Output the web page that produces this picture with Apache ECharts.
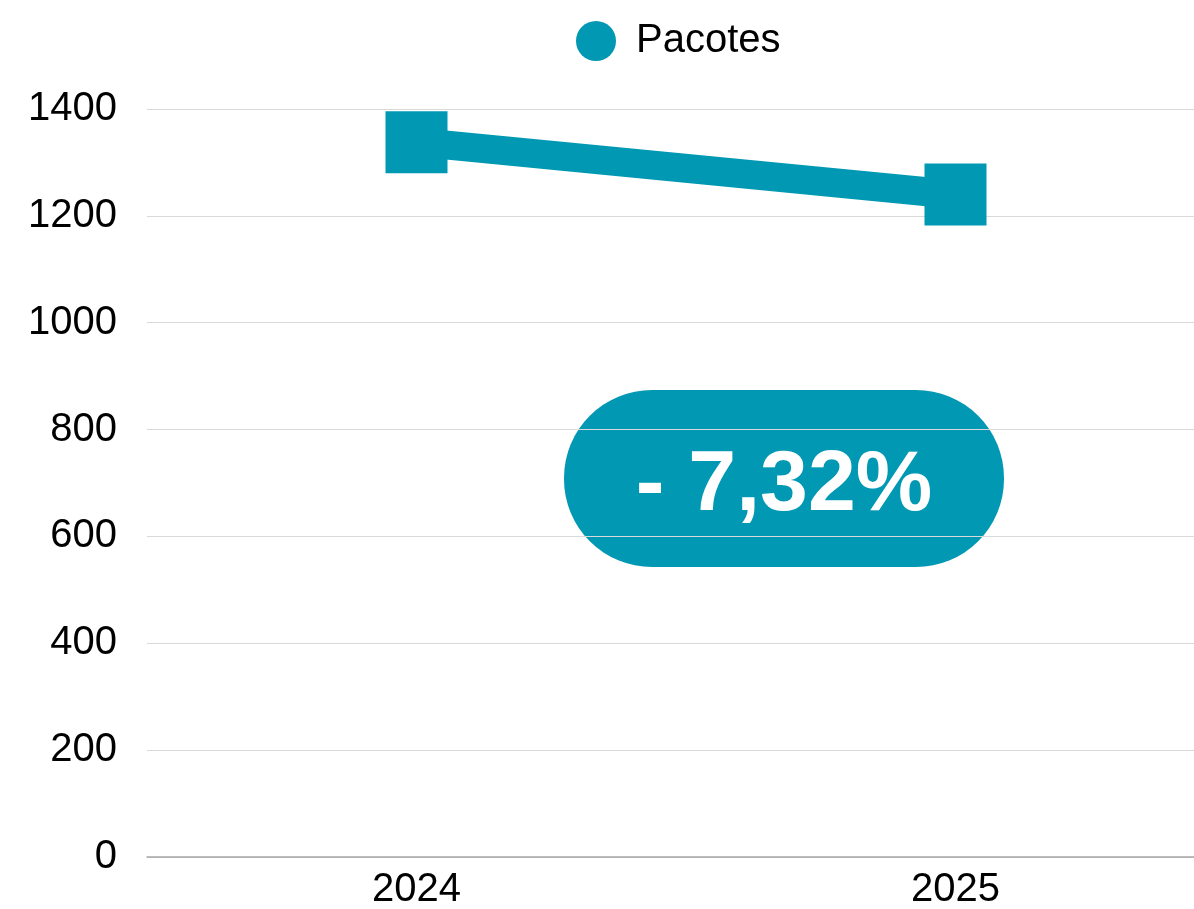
<!DOCTYPE html>
<html>
<head>
<meta charset="utf-8">
<title>Pacotes</title>
<script src="https://cdn.jsdelivr.net/npm/echarts@6/dist/echarts.min.js"></script>
<style>
  html, body { margin: 0; padding: 0; background: #ffffff; }
  #chart { width: 1194px; height: 909px; }
</style>
</head>
<body>
<div id="chart"></div>
<script>
// Package counts per year
const years = ['2024', '2025'];
const pacotes = [1338, 1240];
const yTicks = { min: 0, max: 1400, interval: 200 };

const teal = '#0098b3';
const font = '"Liberation Sans", Arial, Helvetica, sans-serif';

// Year-over-year change shown in the badge
const change = (pacotes[1] - pacotes[0]) / pacotes[0] * 100;
const changeText = (change < 0 ? '- ' : '+ ') + Math.abs(change).toFixed(2).replace('.', ',') + '%';

const chart = echarts.init(document.getElementById('chart'));

chart.setOption({
  animation: false,
  legend: {
    top: 16,
    left: 571,
    icon: 'circle',
    itemWidth: 70,
    itemHeight: 40,
    textStyle: { fontFamily: font, fontSize: 40, color: '#000' },
    data: ['Pacotes']
  },
  // the plot area runs past the right edge of the canvas
  grid: {
    left: 147, width: 1078, top: 109, bottom: 52,
    containLabel: false,
    outerBoundsMode: 'none'
  },
  xAxis: {
    type: 'category',
    data: years,
    boundaryGap: true,
    axisLine: { show: true, lineStyle: { color: '#a6a6a6', width: 1.5 } },
    axisTick: { show: false },
    axisLabel: { fontFamily: font, fontSize: 40, color: '#000', margin: 13 }
  },
  yAxis: {
    type: 'value',
    min: yTicks.min,
    max: yTicks.max,
    interval: yTicks.interval,
    axisLine: { show: false },
    axisTick: { show: false },
    axisLabel: {
      fontFamily: font,
      fontSize: 40,
      color: '#000',
      margin: 30,
      formatter: (v) => String(v)
    },
    splitLine: { lineStyle: { color: '#d9d9d9', width: 1 } }
  },
  series: [{
    name: 'Pacotes',
    type: 'line',
    data: pacotes,
    symbol: 'rect',
    symbolSize: 62,
    showAllSymbol: true,
    lineStyle: { color: teal, width: 29 },
    itemStyle: { color: teal, opacity: 1 },
    emphasis: { disabled: true }
  }],
  graphic: [{
    type: 'group',
    left: 564,
    top: 390,
    children: [{
      type: 'rect',
      shape: { x: 0, y: 0, width: 440, height: 177, r: 88 },
      style: { fill: teal }
    }, {
      type: 'text',
      x: 220,
      y: 96,
      style: {
        text: changeText,
        fill: '#fff',
        font: 'bold 86px ' + font,
        align: 'center',
        verticalAlign: 'middle'
      }
    }]
  }]
});
</script>
</body>
</html>
